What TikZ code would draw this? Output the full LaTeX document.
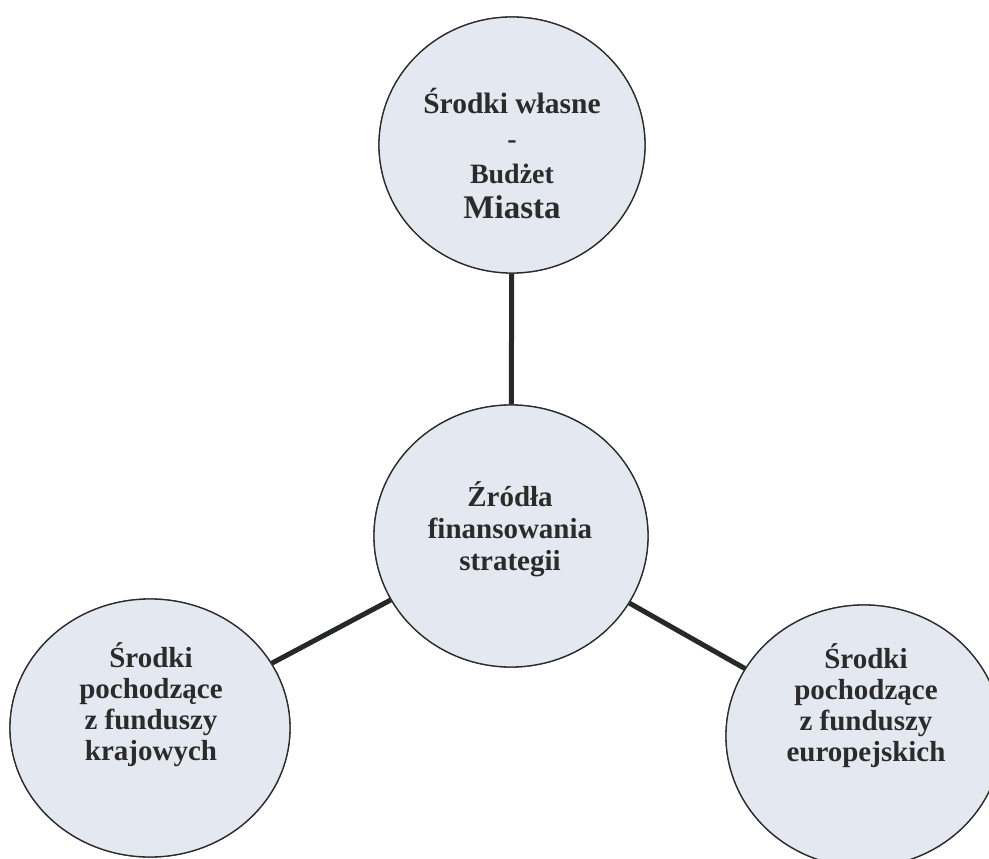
\documentclass[tikz,border=0pt]{standalone}
\usepackage{fontspec}
\setmainfont{Liberation Serif}
\usetikzlibrary{shapes.geometric}
\definecolor{circfill}{HTML}{E4E9F1}
\definecolor{ink}{HTML}{2B2B2B}
\definecolor{linkc}{HTML}{262A27}
\tikzset{
  x=1pt, y=-1pt,
  circ/.style={ellipse, draw=ink, line width=1.3pt, fill=circfill, inner sep=0pt},
  link/.style={draw=linkc, line width=5pt},
  txt/.style={align=center, text=ink, font=\bfseries\fontsize{29}{32}\selectfont, anchor=base, inner sep=0pt},
}
\begin{document}
\begin{tikzpicture}
\useasboundingbox[fill=white] (0,0) rectangle (989,859);
\node[circ, minimum width=266pt, minimum height=256pt] (top) at (512,145) {};
\node[circ, minimum width=274pt, minimum height=262pt] (mid) at (511,536) {};
\node[circ, minimum width=280pt, minimum height=258pt] (left) at (150,728) {};
\node[circ, minimum width=276pt, minimum height=262pt] (right) at (864,736) {};
\draw[link] (top) -- (mid);
\draw[link] (mid) -- (left);
\draw[link] (mid) -- (right);
\node[circ, minimum width=266pt, minimum height=256pt] at (top) {};
\node[circ, minimum width=274pt, minimum height=262pt] at (mid) {};
\node[circ, minimum width=280pt, minimum height=258pt] at (left) {};
\node[circ, minimum width=276pt, minimum height=262pt] at (right) {};
\node[txt, font=\bfseries\fontsize{28}{35}\selectfont] (ttop) at (512,218) {{\fontsize{29.5}{35}\selectfont Środki własne}\\-\\Budżet\\{\fontsize{33}{36}\selectfont Miasta}};
\node[txt] (tmid) at (510,570) {Źródła\\finansowania\\strategii};
\node[txt, font=\bfseries\fontsize{29}{31}\selectfont] (tleft) at (151,760) {Środki\\pochodzące\\z funduszy\\krajowych};
\node[txt, font=\bfseries\fontsize{29}{31}\selectfont] (tright) at (866,761) {Środki\\pochodzące\\z funduszy\\europejskich};
\end{tikzpicture}
\end{document}
